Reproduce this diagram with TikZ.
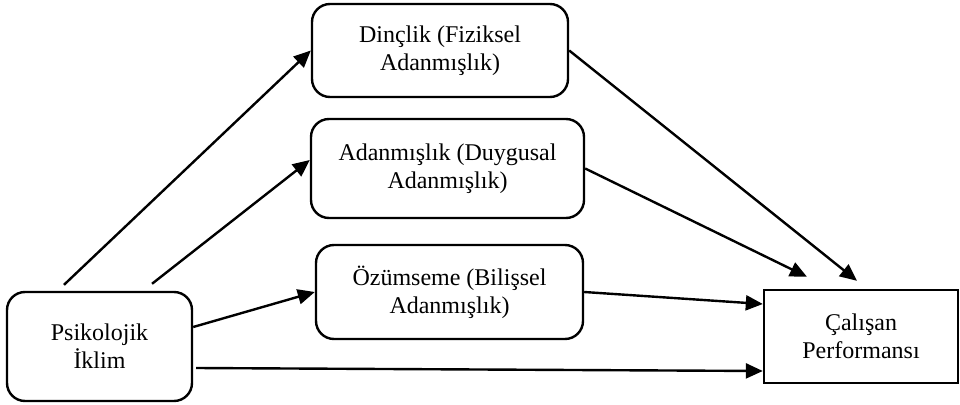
\documentclass[tikz,border=0pt]{standalone}
\usepackage{fontspec}
\setmainfont{Liberation Serif}
\usetikzlibrary{arrows.meta}
\begin{document}
\begin{tikzpicture}[x=1pt,y=-1pt,
  rbox/.style={draw,line width=2.4pt,rounded corners=18pt,align=center,inner sep=0pt,
    font=\fontsize{24}{28}\selectfont},
  sbox/.style={draw,line width=2.4pt,align=center,inner sep=0pt,
    font=\fontsize{24}{28}\selectfont},
  arr/.style={line width=2.4pt,-{Triangle[length=17pt,width=15pt]}}]
\useasboundingbox (0,0) rectangle (960,404);
\node[rbox,minimum width=185pt,minimum height=109pt] (psi) at (99.5,346.5) {Psikolojik\\İklim};
\node[rbox,minimum width=256pt,minimum height=93pt] (din) at (440,50.5) {Dinçlik (Fiziksel\\Adanmışlık)};
\node[rbox,minimum width=273pt,minimum height=99pt] (adn) at (447.5,168.5) {Adanmışlık (Duygusal\\Adanmışlık)};
\node[rbox,minimum width=267pt,minimum height=94pt] (ozu) at (449.5,292) {Özümseme (Bilişsel\\Adanmışlık)};
\node[sbox,minimum width=194pt,minimum height=93pt] (cal) at (861,336.5) {Çalışan\\Performansı};
\draw[arr] ([xshift=-35.5pt,yshift=6pt]psi.north) -- (din.west);
\draw[arr] ([xshift=52.5pt,yshift=7pt]psi.north) -- ([yshift=8.5pt]adn.west);
\draw[arr] ([yshift=19.5pt]psi.east) -- (ozu.west);
\draw[arr] ([xshift=3pt,yshift=-21.5pt]psi.east) -- ([yshift=-34.5pt]cal.west);
\draw[arr] (din.east) -- ([xshift=-4pt,yshift=8pt]cal.north);
\draw[arr] (adn.east) -- ([xshift=-54pt,yshift=12pt]cal.north);
\draw[arr] (ozu.east) -- ([yshift=32.5pt]cal.west);
\end{tikzpicture}
\end{document}
